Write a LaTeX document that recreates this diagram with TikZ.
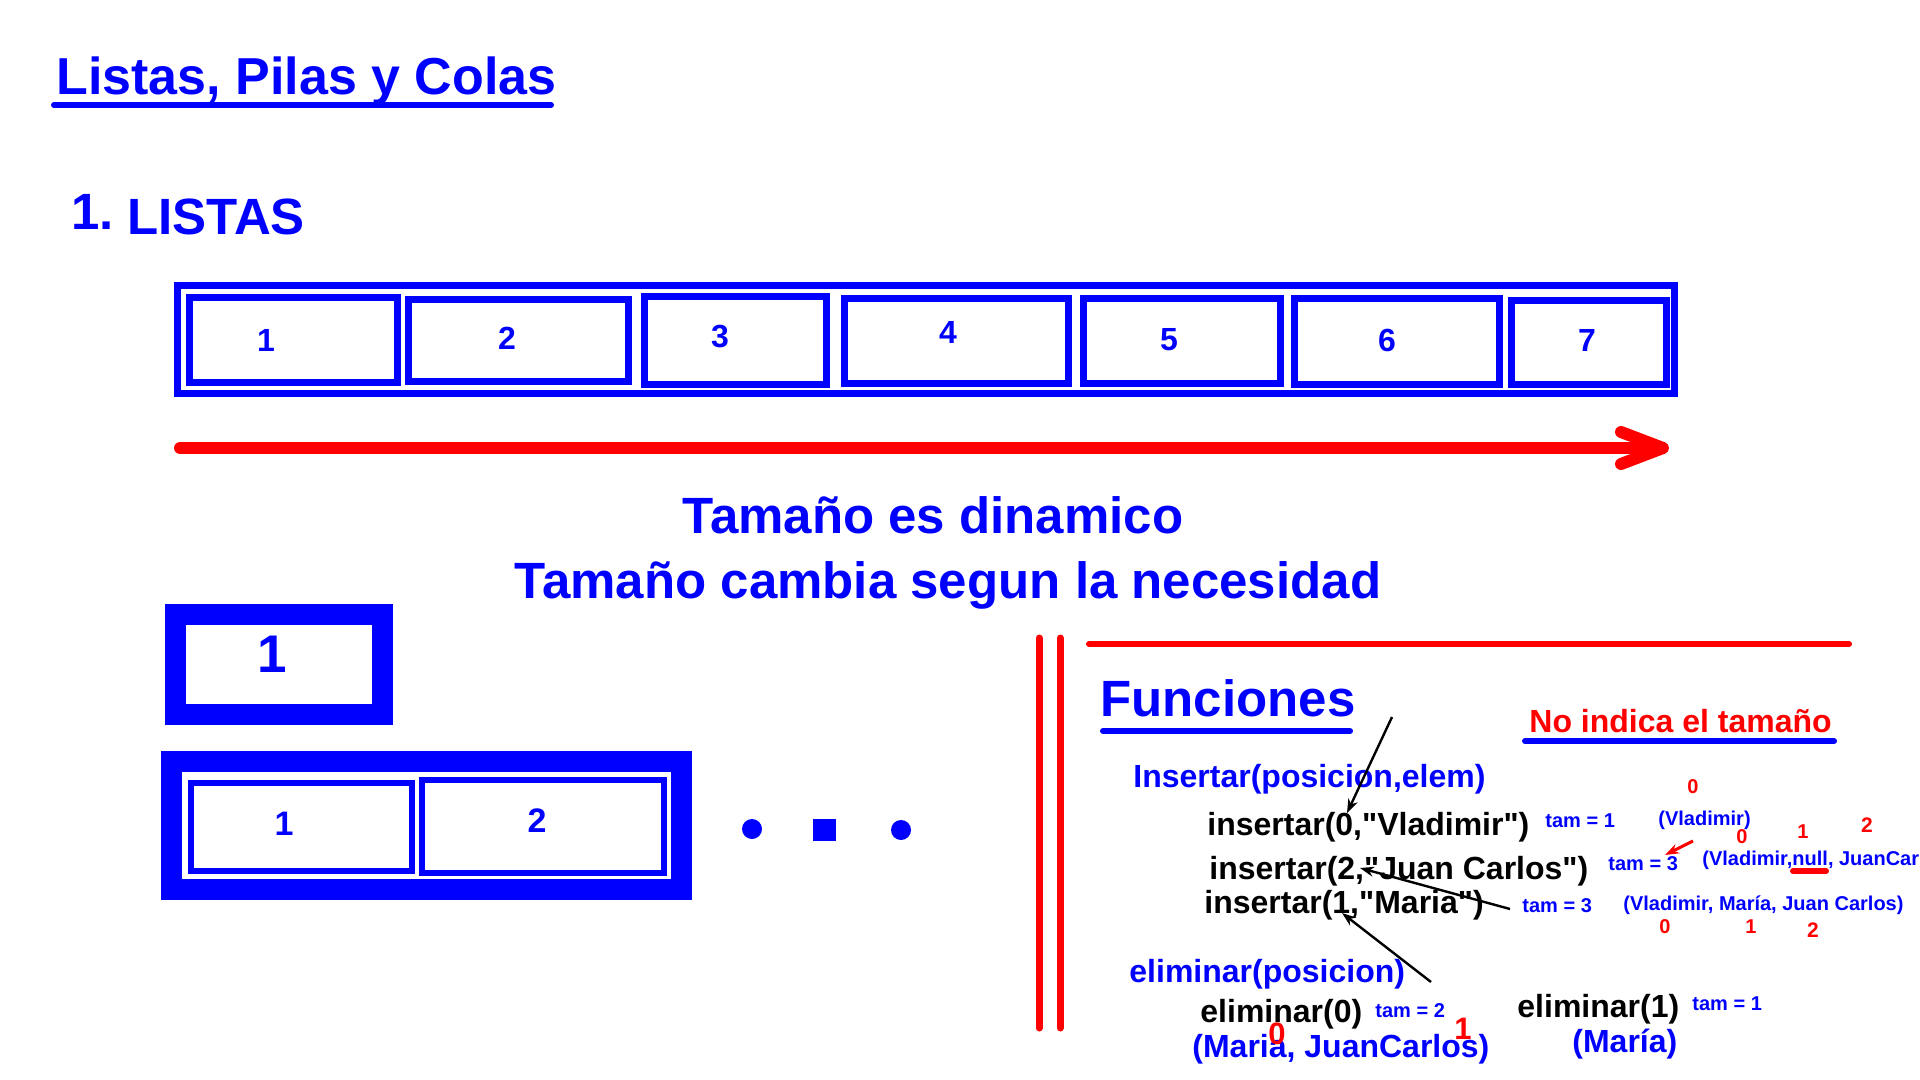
\documentclass[tikz,border=0pt]{standalone}
\usepackage{fontspec}
\setmainfont{Liberation Sans}
\usetikzlibrary{arrows.meta,calc}
\definecolor{azul}{HTML}{0000FF}
\definecolor{rojo}{HTML}{FF0000}
\definecolor{tinta}{HTML}{000000}
\newcommand{\ftit}{\fontsize{26}{31}\selectfont\bfseries}
\newcommand{\fgran}{\fontsize{25.5}{30}\selectfont\bfseries}
\newcommand{\fnorm}{\fontsize{16}{19}\selectfont\bfseries}
\newcommand{\fchico}{\fontsize{10}{12}\selectfont\bfseries}
\newcommand{\qq}{\textquotedbl}

\begin{document}
\begin{tikzpicture}[x=0.5pt,y=-0.5pt,
  txt/.style={anchor=base west,inner sep=0,font=\fnorm,text=azul},
  idx/.style={anchor=center,inner sep=0,font=\fchico,text=rojo},
  celda/.style={draw=azul,line width=3.5pt},
  marco/.style={draw=azul,line width=10.5pt},
  raya/.style={line width=3pt,line cap=round},
  flecha/.style={tinta,line width=1.2pt,-{Stealth[length=7pt,width=5pt]}}]
\useasboundingbox (0,0) rectangle (1920,1080);
\fill[white] (0,0) rectangle (1920,1080);
% titulo
\node[txt,font=\ftit] (titulo) at (56,95) {Listas, Pilas y Colas};
\draw[azul,raya] (54,105) -- (551,105);
\node[txt,font=\fgran] (num) at (71,230) {1.};
\node[txt,font=\fgran] (listas) at (127,235) {LISTAS};
% arreglo de 7 celdas
\draw[celda] (177.5,285.5) rectangle (1674.5,393.5);
\draw[celda] (189.5,297.5) rectangle (397.5,382.5);
\draw[celda] (408.5,299.5) rectangle (628.5,381.5);
\draw[celda] (644.5,296.5) rectangle (826.5,384.5);
\draw[celda] (844.5,298.5) rectangle (1068.5,383.5);
\draw[celda] (1083.5,298.5) rectangle (1280.5,383.5);
\draw[celda] (1294.5,298.5) rectangle (1499.5,384.5);
\draw[celda] (1511.5,300.5) rectangle (1666.5,384.5);
\node[idx,font=\fnorm,text=azul] (e1) at (266,340) {1};
\node[idx,font=\fnorm,text=azul] (e2) at (507,338) {2};
\node[idx,font=\fnorm,text=azul] (e3) at (720,337) {3};
\node[idx,font=\fnorm,text=azul] (e4) at (948,332) {4};
\node[idx,font=\fnorm,text=azul] (e5) at (1169,340) {5};
\node[idx,font=\fnorm,text=azul] (e6) at (1387,340) {6};
\node[idx,font=\fnorm,text=azul] (e7) at (1587,340) {7};
% flecha roja
\coordinate (ini) at (180,448);
\coordinate (fin) at (1669,448);
\draw[rojo,line width=6pt,line cap=round,-{Straight Barb[length=21pt,width=16pt,round]}] (ini) -- (fin);
\node[anchor=base,inner sep=0,font=\fgran,text=azul] (din) at (933,533) {Tamaño es dinamico};
\node[anchor=base,inner sep=0,font=\fgran,text=azul] (nec) at (948,598) {Tamaño cambia segun la necesidad};
% cajas pequenas
\draw[marco] (175.5,614.5) rectangle (382,714.5);
\node[idx,font=\fontsize{26.5}{30}\selectfont\bfseries,text=azul] (s1) at (272,654) {1};
\draw[marco] (171,761.5) rectangle (681.5,889.5);
\draw[celda,line width=3pt] (191,783) rectangle (412,871);
\draw[celda,line width=3pt] (422,780) rectangle (664,873);
\node[idx,font=\fontsize{17}{20}\selectfont\bfseries,text=azul] (d1) at (284,824) {1};
\node[idx,font=\fontsize{17}{20}\selectfont\bfseries,text=azul] (d2) at (537,821) {2};
\fill[azul] (752,829) circle (10);
\fill[azul] (813,819) rectangle (836,841);
\fill[azul] (901,830) circle (10);
% separadores
\draw[rojo,line width=3.5pt,line cap=round] (1039,638) -- (1039,1028);
\draw[rojo,line width=3.5pt,line cap=round] (1060,638) -- (1060,1028);
\draw[rojo,raya] (1089,644) -- (1849,644);
% funciones
\node[txt,font=\fgran] (fun) at (1100,716) {Funciones};
\draw[azul,raya] (1103,731) -- (1350,731);
\node[txt,text=rojo] (noind) at (1529,732) {No indica el tamaño};
\draw[azul,raya] (1525,741) -- (1834,741);
\node[txt] (ins) at (1133,787) {Insertar(posicion,elem)};
\node[txt,text=tinta] (i0) at (1207,835) {insertar(0,\qq Vladimir\qq)};
\node[txt,text=tinta] (i2) at (1209,879) {insertar(2,\qq Juan Carlos\qq)};
\node[txt,text=tinta] (i1) at (1204,913) {insertar(1,\qq Maria\qq)};
\node[txt] (eli) at (1129,982) {eliminar(posicion)};
\node[txt,text=tinta] (el0) at (1200,1022) {eliminar(0)};
\node[txt] (r0) at (1192,1057) {(Maria, JuanCarlos)};
\node[txt,text=tinta] (el1) at (1517,1017) {eliminar(1)};
\node[txt] (r1) at (1572,1052) {(María)};
% tamanos y listas
\node[txt,font=\fchico] (t1) at (1545,827) {tam = 1};
\node[txt,font=\fchico] (v1) at (1658,825) {(Vladimir)};
\node[txt,font=\fchico] (t2) at (1608,870) {tam = 3};
\node[txt,font=\fchico] (v2) at (1702,865) {(Vladimir,null, JuanCarlos)};
\draw[rojo,raya] (1793,871) -- (1826,871);
\node[txt,font=\fchico] (t3) at (1522,912) {tam = 3};
\node[txt,font=\fchico] (v3) at (1623,910) {(Vladimir, María, Juan Carlos)};
\node[txt,font=\fchico] (t4) at (1375,1017) {tam = 2};
\node[txt,font=\fchico] (t5) at (1692,1010) {tam = 1};
\node[idx] (a0) at (1693,787) {0};
\node[idx] (b0) at (1742,837) {0};
\node[idx] (b1) at (1803,832) {1};
\node[idx,font=\fontsize{10.5}{12}\selectfont\bfseries] (b2) at (1867,825) {2};
\node[idx] (c0) at (1665,927) {0};
\node[idx] (c1) at (1751,927) {1};
\node[idx,font=\fontsize{10.5}{12}\selectfont\bfseries] (c2) at (1813,930) {2};
\node[idx,font=\fontsize{15.5}{18}\selectfont\bfseries] (g0) at (1277,1034) {0};
\node[idx,font=\fontsize{15.5}{18}\selectfont\bfseries] (g1) at (1463,1029) {1};
% flechas
\coordinate (fa) at (1392,717);
\coordinate (pa) at (1347,813);
\coordinate (fb) at (1510,909);
\coordinate (pb) at (1360,868);
\coordinate (fc) at (1431,982);
\coordinate (pc) at (1342,913);
\coordinate (fr) at (1693,841);
\coordinate (pr) at (1665,855);
\draw[flecha] (fa) -- (pa);
\draw[flecha] (fb) -- (pb);
\draw[flecha] (fc) -- (pc);
\draw[flecha,rojo,line width=1.5pt] (fr) -- (pr);
\end{tikzpicture}
\end{document}
